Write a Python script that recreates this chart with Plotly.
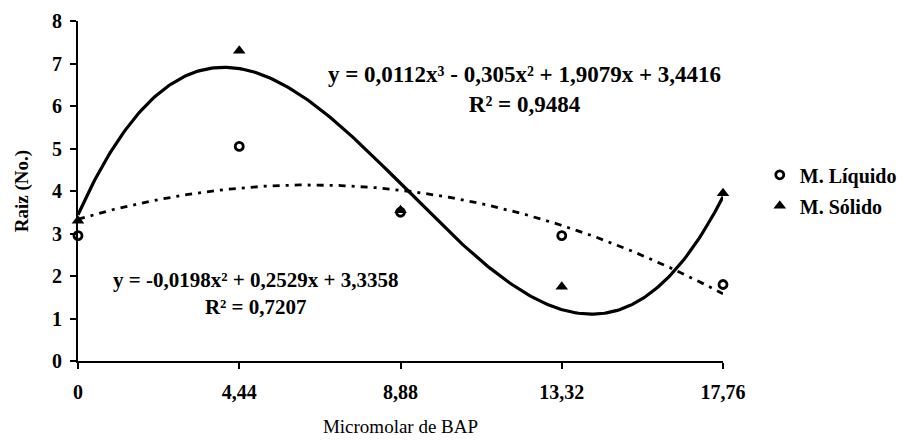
import numpy as np
import plotly.graph_objects as go

# ---- data ----
doses = [0, 4.44, 8.88, 13.32, 17.76]
tick_labels = ["0", "4,44", "8,88", "13,32", "17,76"]
liquido = [2.95, 5.05, 3.5, 2.95, 1.8]
solido = [3.3, 7.3, 3.55, 1.75, 3.95]
# trendline coefficients printed on the chart
coef_solido = [0.0112, -0.305, 1.9079, 3.4416]   # cubic
coef_liquido = [-0.0198, 0.2529, 3.3358]         # quadratic
eq_solido = "y = 0,0112x³ - 0,305x² + 1,9079x + 3,4416<br>R² = 0,9484"
eq_liquido = "y = -0,0198x² + 0,2529x + 3,3358<br>R² = 0,7207"

FONT = "Liberation Serif, Times New Roman, serif"

xs = np.linspace(min(doses), max(doses), 300)

fig = go.Figure()
fig.add_trace(go.Scatter(
    x=xs, y=np.polyval(coef_solido, xs), mode="lines",
    line=dict(color="black", width=3.2), showlegend=False, hoverinfo="skip"))
fig.add_trace(go.Scatter(
    x=xs, y=np.polyval(coef_liquido, xs), mode="lines",
    line=dict(color="black", width=2.8, dash="7px,6px,3px,6px"),
    showlegend=False, hoverinfo="skip"))
fig.add_trace(go.Scatter(
    x=doses, y=liquido, mode="markers", name="M. Líquido",
    marker=dict(symbol="circle-open", size=8, color="black", line=dict(width=2.8, color="black")),
    cliponaxis=False, legendgroup="a"))
fig.add_trace(go.Scatter(
    x=doses, y=solido, mode="markers", name="M. Sólido",
    marker=dict(symbol="triangle-up", size=11, color="black"),
    cliponaxis=False, legendgroup="b"))

fig.update_layout(
    width=905, height=444,
    margin=dict(l=78, r=182, t=21, b=83, autoexpand=False),
    paper_bgcolor="white", plot_bgcolor="white",
    font=dict(family=FONT, color="black", size=19),
    showlegend=True,
    legend=dict(x=1.057, y=0.605, xanchor="left", yanchor="top",
                font=dict(family=FONT, size=20, weight="bold"),
                tracegroupgap=2, itemwidth=30, bgcolor="rgba(0,0,0,0)"),
    xaxis=dict(range=[0, 17.76], tickvals=doses, ticktext=tick_labels,
               showgrid=False, zeroline=False, showline=True, linecolor="black", linewidth=2,
               ticks="outside", ticklen=6, tickwidth=2, tickcolor="black",
               ticklabelstandoff=6,
               tickfont=dict(family=FONT, size=20, weight="bold"),
               title=dict(text="Micromolar de BAP", font=dict(family=FONT, size=19), standoff=18)),
    yaxis=dict(range=[0, 8], dtick=1,
               showgrid=False, zeroline=False, showline=True, linecolor="black", linewidth=2,
               ticks="outside", ticklen=6, tickwidth=2, tickcolor="black",
               ticklabelstandoff=4,
               tickfont=dict(family=FONT, size=20, weight="bold"),
               title=dict(text="Raiz (No.)", font=dict(family=FONT, size=19, weight="bold"), standoff=18)),
    annotations=[
        dict(x=12.3, y=6.4, xref="x", yref="y", text=eq_solido, showarrow=False,
             align="center", font=dict(family=FONT, size=23, weight="bold")),
        dict(x=4.9, y=1.6, xref="x", yref="y", text=eq_liquido, showarrow=False,
             align="center", font=dict(family=FONT, size=21, weight="bold")),
    ],
)

fig.write_html("out.html")
